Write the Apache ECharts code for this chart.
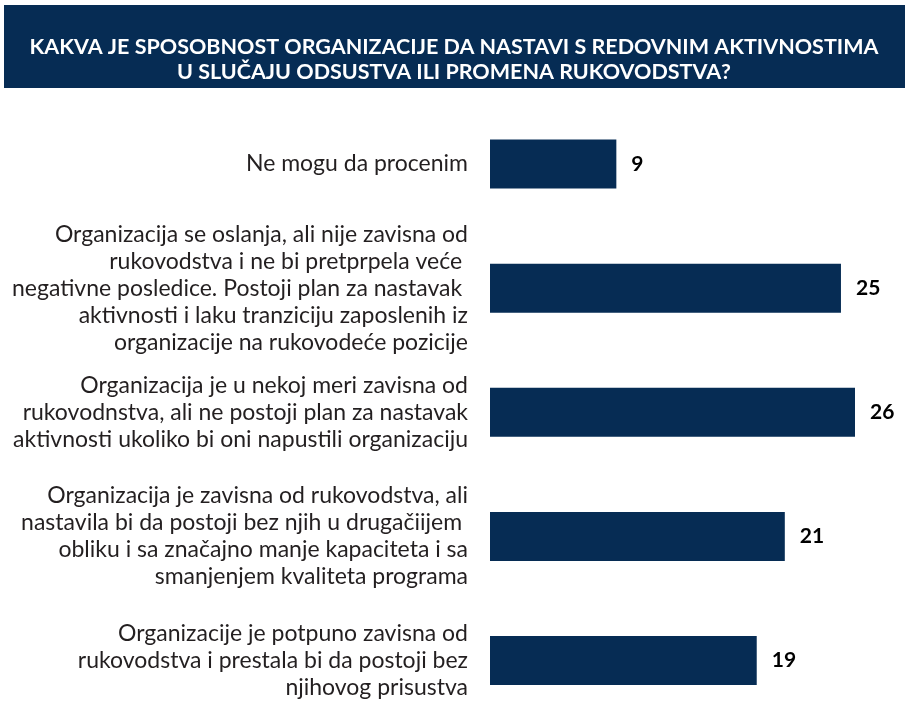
<!DOCTYPE html>
<html>
<head>
<meta charset="utf-8">
<script src="https://cdn.jsdelivr.net/npm/echarts@6/dist/echarts.min.js"></script>
<style>
  html, body { margin: 0; padding: 0; background: #fff; }
  #main { width: 908px; height: 701px; }
</style>
</head>
<body>
<div id="main"></div>
<script>
const titleText = 'KAKVA JE SPOSOBNOST ORGANIZACIJE DA NASTAVI S REDOVNIM AKTIVNOSTIMA\nU SLUČAJU ODSUSTVA ILI PROMENA RUKOVODSTVA?'
const categories = [
  'Ne mogu da procenim',
  'Organizacija se oslanja, ali nije zavisna od\nrukovodstva i ne bi pretprpela veće \nnegativne posledice. Postoji plan za nastavak \naktivnosti i laku tranziciju zaposlenih iz\norganizacije na rukovodeće pozicije',
  'Organizacija je u nekoj meri zavisna od\nrukovodnstva, ali ne postoji plan za nastavak\naktivnosti ukoliko bi oni napustili organizaciju',
  'Organizacija je zavisna od rukovodstva, ali\nnastavila bi da postoji bez njih u drugačiijem \nobliku i sa značajno manje kapaciteta i sa\nsmanjenjem kvaliteta programa',
  'Organizacije je potpuno zavisna od\nrukovodstva i prestala bi da postoji bez\nnjihovog prisustva'
]
const values = [9, 25, 26, 21, 19]

const navy = '#062c54'
const chart = echarts.init(document.getElementById('main'))
chart.setOption({
  animation: false,
  graphic: [
    {
      type: 'rect',
      shape: { x: 4, y: 5, width: 901, height: 83 },
      style: { fill: navy },
      z: 0
    }
  ],
  title: {
    text: titleText,
    left: 'center',
    top: 30,
    textStyle: {
      color: '#fff',
      fontFamily: 'Lato',
      fontWeight: 'bold',
      fontSize: 21.5,
      lineHeight: 25
    },
    z: 5
  },
  // boundaryGap off so the first and last bars sit on the grid edges
  grid: { left: 490, top: 164, width: 365, height: 497 },
  xAxis: {
    type: 'value',
    min: 0,
    max: 26,
    show: false
  },
  yAxis: {
    type: 'category',
    inverse: true,
    boundaryGap: false,
    data: categories,
    axisLine: { show: false },
    axisTick: { show: false },
    splitLine: { show: false },
    axisLabel: {
      margin: 22,
      color: '#231f20',
      fontFamily: 'Lato',
      fontSize: 23,
      lineHeight: 27,
      align: 'right'
    }
  },
  series: [
    {
      type: 'bar',
      data: values,
      barWidth: 49,
      itemStyle: { color: navy },
      label: {
        show: true,
        position: 'right',
        distance: 15,
        color: '#000',
        fontFamily: 'Lato',
        fontWeight: 'bold',
        fontSize: 21
      }
    }
  ]
})
</script>
</body>
</html>
